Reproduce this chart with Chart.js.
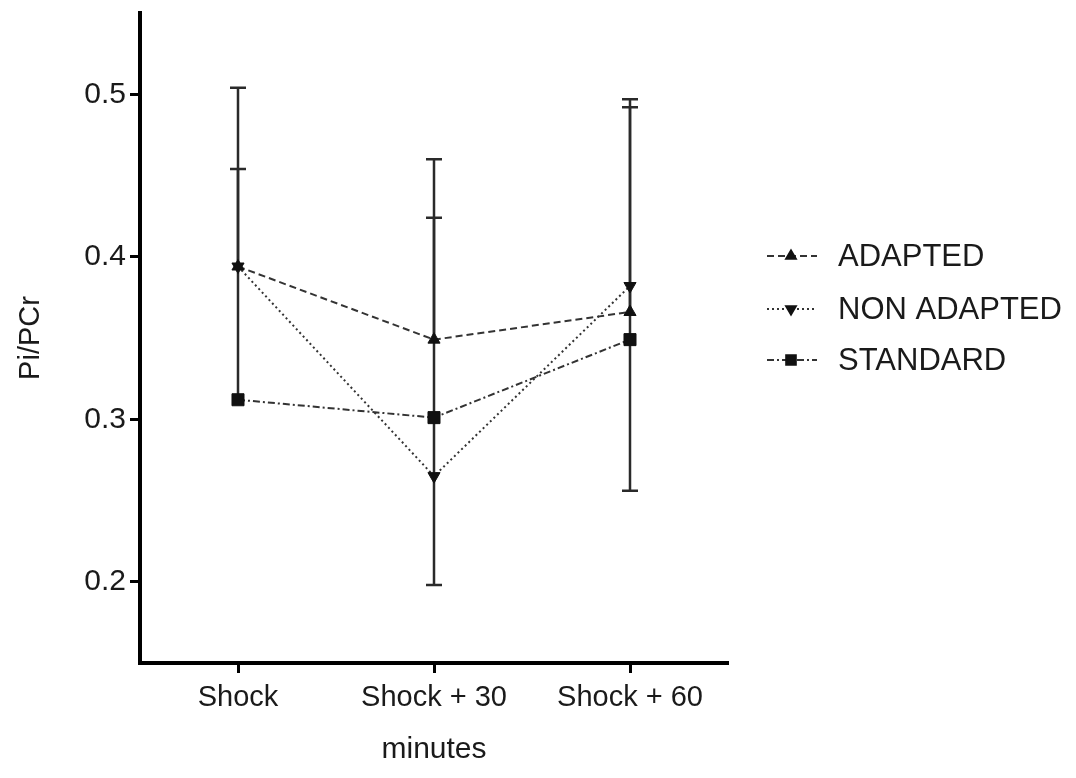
<!DOCTYPE html>
<html>
<head>
<meta charset="utf-8">
<script src="https://cdn.jsdelivr.net/npm/chart.js@4.4.1/dist/chart.umd.min.js"></script>
<style>
  html, body { margin: 0; background: #fff; }
</style>
</head>
<body>
<canvas id="chart" width="1076" height="778"></canvas>
<script>
// Pi/PCr after shock, three groups

const categories = ['Shock', 'Shock + 30', 'Shock + 60'];
const yTicks = [0.2, 0.3, 0.4, 0.5];

const adapted = [0.394, 0.349, 0.366];
const nonAdapted = [0.394, 0.265, 0.382];
const standard = [0.312, 0.301, 0.349];

// error bar ends (null = no bar on that side)
const adaptedHi = [0.504, 0.460, 0.497];
const adaptedLo = [null, null, null];
const nonAdaptedHi = [null, null, null];
const nonAdaptedLo = [null, null, null];
const standardHi = [0.454, 0.424, 0.492];
const standardLo = [null, 0.198, 0.256];

const FONT = '"Liberation Sans", Arial, Helvetica, sans-serif';
const INK = '#1a1a1a';

const errorBars = {
  id: 'errorBars',
  beforeDatasetsDraw(chart) {
    const { ctx, scales: { x, y } } = chart;
    ctx.save();
    ctx.strokeStyle = '#2a2a2a';
    ctx.lineWidth = 2.5;
    ctx.setLineDash([]);
    chart.data.datasets.forEach(ds => {
      ds.data.forEach((v, i) => {
        const px = x.getPixelForValue(i);
        const py = y.getPixelForValue(v);
        [ds.errHi[i], ds.errLo[i]].forEach(end => {
          if (end === null) return;
          const pe = y.getPixelForValue(end);
          ctx.beginPath();
          ctx.moveTo(px, py);
          ctx.lineTo(px, pe);
          ctx.moveTo(px - 8, pe);
          ctx.lineTo(px + 8, pe);
          ctx.stroke();
        });
      });
    });
    ctx.restore();
  }
};

const sideLegend = {
  id: 'sideLegend',
  afterDraw(chart) {
    const { ctx } = chart;
    const rows = [256, 309, 360];
    ctx.save();
    chart.data.datasets.forEach((ds, i) => {
      const yy = rows[i];
      ctx.strokeStyle = ds.borderColor;
      ctx.lineWidth = 2;
      ctx.setLineDash(ds.borderDash);
      ctx.beginPath();
      ctx.moveTo(767, yy);
      ctx.lineTo(817, yy);
      ctx.stroke();
      ctx.setLineDash([]);
      ctx.fillStyle = ds.pointBackgroundColor;
      ctx.strokeStyle = ds.pointBorderColor;
      if (Chart.helpers && Chart.helpers.drawPoint) {
        Chart.helpers.drawPoint(ctx, {
          pointStyle: ds.pointStyle,
          rotation: ds.pointRotation || 0,
          radius: ds.pointRadius * 0.8,
          borderWidth: 1
        }, 791, yy);
      }
      ctx.fillStyle = INK;
      ctx.font = '31px ' + FONT;
      ctx.textBaseline = 'middle';
      ctx.textAlign = 'left';
      ctx.fillText(ds.label, 838, yy + 1);
    });
    ctx.restore();
  }
};

function lineSet(label, data, hi, lo, dash, style, rot, radius) {
  return {
    label,
    data,
    errHi: hi,
    errLo: lo,
    borderColor: '#333',
    borderWidth: 2,
    borderDash: dash,
    pointStyle: style,
    pointRotation: rot,
    pointRadius: radius,
    pointBackgroundColor: '#111',
    pointBorderColor: '#111',
    pointBorderWidth: 1,
    tension: 0,
    fill: false
  };
}

new Chart(document.getElementById('chart'), {
  type: 'line',
  data: {
    labels: categories,
    datasets: [
      lineSet('ADAPTED', adapted, adaptedHi, adaptedLo, [7, 4], 'triangle', 0, 7),
      lineSet('NON ADAPTED', nonAdapted, nonAdaptedHi, nonAdaptedLo, [2, 3], 'triangle', 180, 7),
      lineSet('STANDARD', standard, standardHi, standardLo, [7, 3, 2, 3], 'rect', 0, 8.5)
    ]
  },
  options: {
    responsive: false,
    animation: false,
    layout: { padding: { top: 13, right: 348, bottom: 0, left: 0 } },
    plugins: {
      legend: { display: false },
      tooltip: { enabled: false }
    },
    scales: {
      x: {
        offset: true,
        border: { display: true, color: '#000', width: 4 },
        grid: { drawOnChartArea: false, drawTicks: true, tickLength: 10, tickWidth: 3, color: '#000' },
        ticks: { color: INK, padding: 8, maxRotation: 0, font: { family: FONT, size: 29 } },
        title: { display: true, text: 'minutes', color: INK, padding: { top: 0, bottom: 10 }, font: { family: FONT, size: 30 } },
        afterFit: s => { s.height = 115; s.paddingLeft = 0; s.paddingRight = 0; }
      },
      y: {
        min: 0.15,
        max: 0.55,
        border: { display: true, color: '#000', width: 4 },
        grid: { drawOnChartArea: false, drawTicks: true, tickLength: 10, tickWidth: 3, color: '#000' },
        ticks: { color: INK, padding: 4, font: { family: FONT, size: 30 }, callback: v => v.toFixed(1) },
        afterBuildTicks: s => { s.ticks = yTicks.map(v => ({ value: v })); },
        title: { display: true, text: 'Pi/PCr', color: INK, padding: { top: 14, bottom: 0 }, font: { family: FONT, size: 29 } },
        afterFit: s => { s.width = 140; s.paddingTop = 0; s.paddingBottom = 0; }
      }
    }
  },
  plugins: [errorBars, sideLegend]
});
</script>
</body>
</html>
